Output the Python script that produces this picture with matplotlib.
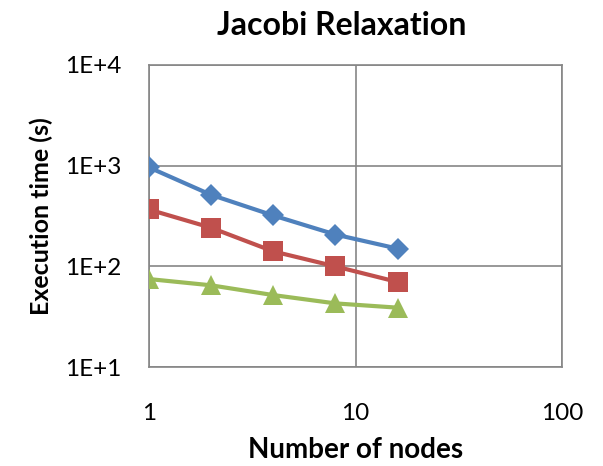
import matplotlib
matplotlib.use('Agg')
import matplotlib.pyplot as plt
from matplotlib.ticker import FixedLocator, FixedFormatter, NullLocator

plt.rcParams['font.family'] = ['Lato', 'DejaVu Sans']

nodes = [1, 2, 4, 8, 16]
series_blue = [962, 513, 320, 207, 150]
series_red = [367, 242, 141, 100, 70]
series_green = [75, 65, 52, 43, 39]

x_ticks = [1, 10, 100]
x_labels = ['1', '10', '100']
y_ticks = [10, 100, 1000, 10000]
y_labels = ['1E+1', '1E+2', '1E+3', '1E+4']

fig = plt.figure(figsize=(6.03, 4.66), dpi=100)
ax = fig.add_axes([0.2466, 0.2118, 0.686, 0.6494])

ax.plot(nodes, series_blue, color='#4F81BD', lw=3, marker='D', ms=11,
        markeredgewidth=0, zorder=3)
ax.plot(nodes, series_red, color='#C0504D', lw=3, marker='s', ms=14,
        markeredgewidth=0, zorder=3)
ax.plot(nodes, series_green, color='#9BBB59', lw=3, marker='^', ms=15,
        markeredgewidth=0, zorder=3)

ax.set_xscale('log')
ax.set_yscale('log')
ax.set_xlim(1, 100)
ax.set_ylim(10, 10000)

ax.xaxis.set_major_locator(FixedLocator(x_ticks))
ax.xaxis.set_major_formatter(FixedFormatter(x_labels))
ax.xaxis.set_minor_locator(NullLocator())
ax.yaxis.set_major_locator(FixedLocator(y_ticks))
ax.yaxis.set_major_formatter(FixedFormatter(y_labels))
ax.yaxis.set_minor_locator(NullLocator())

ax.grid(True, color='#868686', lw=1.2)
ax.set_axisbelow(True)
for s in ax.spines.values():
    s.set_color('#868686')
    s.set_linewidth(1.2)
ax.tick_params(length=0, labelsize=17.5)
ax.tick_params(axis='x', pad=26)
ax.tick_params(axis='y', pad=20)

ax.set_ylabel('Execution time (s)', fontsize=18, fontweight='bold', labelpad=8)

# title and x label are placed on the figure
fig.text(0.567, 0.946, 'Jacobi Relaxation', fontsize=23, fontweight='bold',
         ha='center', va='center')
fig.text(0.589, 0.034, 'Number of nodes', fontsize=20, fontweight='bold',
         ha='center', va='center')

fig.savefig('out.png', dpi=100)
